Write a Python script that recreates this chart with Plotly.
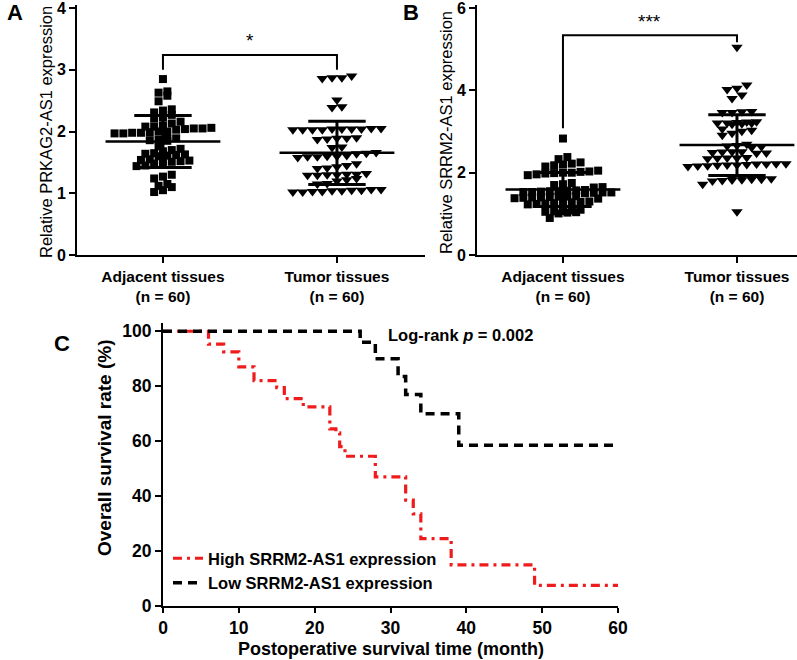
import numpy as np
import plotly.graph_objects as go

# ---------------- data ----------------
categories = ["Adjacent tissues<br>(n = 60)", "Tumor tissues<br>(n = 60)"]

prkag2_adjacent = [2.85, 2.65, 2.63, 2.58, 2.49,
                   2.36, 2.34, 2.31, 2.27, 2.23, 2.21, 2.16, 2.13,
                   2.10, 2.08, 2.08, 2.06, 2.05, 2.05, 2.04, 2.03,
                   1.99, 1.98, 1.97, 2.00, 2.00, 1.98, 1.97,
                   1.89, 1.88, 1.87, 1.86, 1.85,
                   1.76, 1.72, 1.70, 1.68,
                   1.65, 1.64, 1.63, 1.62, 1.61, 1.60,
                   1.55, 1.54, 1.53, 1.52, 1.51, 1.50, 1.48,
                   1.45, 1.44,
                   1.30, 1.27, 1.24,
                   1.15, 1.12, 1.10,
                   1.05, 1.02]
prkag2_tumor = [2.90, 2.87, 2.86, 2.87,
                2.51, 2.40, 2.39,
                2.05, 2.04, 2.03, 2.03, 2.04, 2.05, 2.03, 2.04, 2.03, 2.04,
                1.90, 1.89, 1.88, 1.89, 1.87,
                1.75, 1.74,
                1.66, 1.65, 1.64,
                1.61, 1.60, 1.59, 1.60, 1.58, 1.59,
                1.48, 1.45, 1.43, 1.41, 1.40,
                1.32, 1.31, 1.30, 1.29, 1.29, 1.30, 1.31,
                1.24, 1.22, 1.20, 1.16, 1.15,
                1.06, 1.05, 1.04, 1.03, 1.02, 1.02, 1.03, 1.04, 1.05, 1.06]

srrm2_adjacent = [2.83, 2.38, 2.33,
                  2.25, 2.22, 2.20, 2.18, 2.15,
                  2.05, 2.03, 2.02, 2.00, 2.00, 1.99, 1.98, 1.96, 1.94,
                  1.75, 1.72, 1.70,
                  1.65, 1.64,
                  1.58, 1.57, 1.56, 1.55, 1.55, 1.54, 1.53, 1.53, 1.52, 1.52, 1.51, 1.50,
                  1.43, 1.42, 1.42, 1.41, 1.40, 1.40, 1.39, 1.38, 1.37,
                  1.30, 1.29, 1.28, 1.27, 1.26, 1.25, 1.24, 1.23,
                  1.10, 1.08, 1.07, 1.06, 1.05, 1.04, 1.03, 1.01,
                  0.90]
srrm2_tumor = [5.05,
               4.13, 4.05, 4.02, 3.89, 3.80,
               3.49, 3.48, 3.46, 3.46,
               3.24, 3.23, 3.21, 3.20, 3.19, 3.18, 3.21, 3.22,
               3.06, 3.01, 2.96, 2.91, 3.03,
               2.69, 2.66, 2.63, 2.61, 2.65,
               2.51, 2.49, 2.48, 2.47, 2.51, 2.50,
               2.37, 2.36, 2.35, 2.34, 2.36,
               2.22, 2.21, 2.20, 2.19, 2.18, 2.17, 2.16, 2.15, 2.19, 2.21, 2.22,
               1.89, 1.87, 1.85, 1.84, 1.83, 1.82, 1.81, 1.80, 1.84,
               1.72,
               1.05]

km_high_time = [0, 6, 8, 10, 12, 15, 16, 18.5, 22, 22.8, 23.3, 24, 28, 32, 33, 34, 38, 49, 60]
km_high_surv = [100, 95.3, 92.5, 87, 82, 79.5, 75.5, 72.5, 64.5, 63, 58, 54.5, 47, 38.5, 33.5, 24.5, 15, 7.5, 7.5]
km_low_time = [0, 26, 28, 31, 32, 34, 39, 60]
km_low_surv = [100, 96, 90, 83.5, 77, 70, 58.5, 58.5]

# ---------------- helpers ----------------
W, H = 797, 660
FONT = "Liberation Sans, Arial, sans-serif"


def px_x(p):
    return p / W


def px_y(p):
    return (H - p) / H


def row_swarm(values, ppy, ppx, h=6.0, sp=9.0):
    """GraphPad-like column scatter: bin values into rows, spread each row symmetrically."""
    n = len(values)
    order = sorted(range(n), key=lambda i: values[i])
    rows, cur, base = [], [order[0]], values[order[0]]
    for i in order[1:]:
        if (values[i] - base) * ppy < h:
            cur.append(i)
        else:
            rows.append(cur)
            cur, base = [i], values[i]
    rows.append(cur)
    xs = [0.0] * n
    for row in rows:
        m = len(row)
        for j, i in enumerate(row):
            xs[i] = (j - (m - 1) / 2.0) * sp / ppx
    return xs


fig = go.Figure()

PPX = 174.0  # pixels per category unit


def add_dotplot(xa, ya, adj, tum, ppy):
    for k, (vals, sym, sz, sp) in enumerate([(adj, "square", 8, 8.8), (tum, "triangle-down", 10, 9.8)]):
        off = row_swarm(vals, ppy, PPX, sp=sp)
        fig.add_trace(go.Scatter(x=[k + o for o in off], y=vals, mode="markers",
                                 marker=dict(symbol=sym, size=sz, color="black", line=dict(width=0)),
                                 xaxis=xa, yaxis=ya, showlegend=False, hoverinfo="skip"))
        m = float(np.mean(vals))
        s = float(np.std(vals, ddof=1))
        for xs_, ys_, w in [([k - 0.33, k + 0.33], [m, m], 2.5),
                            ([k - 0.165, k + 0.165], [m + s, m + s], 3),
                            ([k - 0.165, k + 0.165], [m - s, m - s], 3),
                            ([k, k], [m - s, m + s], 3)]:
            fig.add_trace(go.Scatter(x=xs_, y=ys_, mode="lines", line=dict(color="black", width=w),
                                     xaxis=xa, yaxis=ya, showlegend=False, hoverinfo="skip"))


add_dotplot("x", "y", prkag2_adjacent, prkag2_tumor, 61.75)
add_dotplot("x2", "y2", srrm2_adjacent, srrm2_tumor, 41.17)

# significance brackets
fig.add_trace(go.Scatter(x=[0, 0, 1, 1], y=[3.0, 3.24, 3.24, 3.0], mode="lines",
                         line=dict(color="black", width=2), xaxis="x", yaxis="y",
                         showlegend=False, hoverinfo="skip"))
fig.add_trace(go.Scatter(x=[0, 0, 1, 1], y=[3.08, 5.34, 5.34, 5.17], mode="lines",
                         line=dict(color="black", width=2), xaxis="x2", yaxis="y2",
                         showlegend=False, hoverinfo="skip"))

# KM curves
fig.add_trace(go.Scatter(x=km_high_time, y=km_high_surv, mode="lines", line_shape="hv",
                         line=dict(color="#ee1c1c", width=3.2, dash="9px,5px,3px,5px"),
                         name="High SRRM2-AS1 expression", xaxis="x3", yaxis="y3"))
fig.add_trace(go.Scatter(x=km_low_time, y=km_low_surv, mode="lines", line_shape="hv",
                         line=dict(color="black", width=3.5, dash="9px,6px"),
                         name="Low SRRM2-AS1 expression", xaxis="x3", yaxis="y3"))

axis_common = dict(showline=True, linecolor="black", linewidth=2, ticks="outside",
                   ticklen=6, tickwidth=2, tickcolor="black", showgrid=False, zeroline=False,
                   automargin=False, ticklabeloverflow="allow",
                   tickfont=dict(family=FONT, size=16, color="black", weight="bold"))
cat_font = dict(family=FONT, size=15.5, color="black", weight="bold")
c_font = dict(family=FONT, size=17.5, color="black", weight="bold")

fig.update_layout(
    template="none",
    width=W, height=H, margin=dict(l=0, r=0, t=0, b=0, autoexpand=False),
    paper_bgcolor="white", plot_bgcolor="white",
    font=dict(family=FONT, color="black"),
    xaxis=dict(axis_common, domain=[px_x(77), px_x(425)], range=[-0.494, 1.506],
               tickvals=[0, 1], ticktext=categories, anchor="y", tickfont=cat_font),
    yaxis=dict(axis_common, domain=[px_y(255), px_y(5)], range=[0, 4.05], dtick=1, anchor="x"),
    xaxis2=dict(axis_common, domain=[px_x(477), 1.0], range=[-0.494, 1.345],
                tickvals=[0, 1], ticktext=categories, anchor="y2", tickfont=cat_font),
    yaxis2=dict(axis_common, domain=[px_y(255), px_y(5)], range=[0, 6.075], dtick=2, anchor="x2"),
    xaxis3=dict(axis_common, domain=[px_x(163), px_x(618)], range=[0, 60], dtick=10, anchor="y3",
                ticklen=5, tickfont=c_font),
    yaxis3=dict(axis_common, domain=[px_y(606), px_y(323)], range=[0, 103],
                tickvals=[0, 20, 40, 60, 80, 100], anchor="x3", tickfont=c_font),
    legend=dict(x=px_x(168), y=px_y(541), xanchor="left", yanchor="top",
                bgcolor="rgba(0,0,0,0)", tracegroupgap=0, itemwidth=30, borderwidth=0,
                font=dict(family=FONT, size=16.5, color="black", weight="bold")),
    showlegend=True,
)

ann = []
# panel letters
for txt, x, y in [("A", 15, 12), ("B", 411, 12), ("C", 62, 343)]:
    ann.append(dict(text=txt, x=px_x(x), y=px_y(y), xref="paper", yref="paper", showarrow=False,
                    xanchor="center", yanchor="middle",
                    font=dict(family=FONT, size=22, color="black", weight="bold")))
# y titles
ann.append(dict(text="Relative PRKAG2-AS1 expression", x=px_x(46), y=px_y(132), xref="paper", yref="paper",
                showarrow=False, textangle=-90, xanchor="center", yanchor="middle",
                font=dict(family=FONT, size=16.5, color="black")))
ann.append(dict(text="Relative SRRM2-AS1 expression", x=px_x(446), y=px_y(132), xref="paper", yref="paper",
                showarrow=False, textangle=-90, xanchor="center", yanchor="middle",
                font=dict(family=FONT, size=16.5, color="black")))
ann.append(dict(text="Overall survival rate (%)", x=px_x(105), y=px_y(448), xref="paper", yref="paper",
                showarrow=False, textangle=-90, xanchor="center", yanchor="middle",
                font=dict(family=FONT, size=19, color="black", weight="bold")))
ann.append(dict(text="Postoperative survival time (month)", x=px_x(391), y=px_y(649), xref="paper",
                yref="paper", showarrow=False, xanchor="center", yanchor="middle",
                font=dict(family=FONT, size=18, color="black", weight="bold")))
# stars
ann.append(dict(text="*", x=0.5, y=3.27, xref="x", yref="y", showarrow=False, yanchor="bottom",
                font=dict(family=FONT, size=19, color="black")))
ann.append(dict(text="***", x=0.5, y=5.37, xref="x2", yref="y2", showarrow=False, yanchor="bottom",
                font=dict(family=FONT, size=19, color="black")))
ann.append(dict(text="Log-rank <i>p</i> = 0.002", x=29.4, y=98.8, xref="x3", yref="y3", showarrow=False,
                xanchor="left", yanchor="middle",
                font=dict(family=FONT, size=16.5, color="black", weight="bold")))
fig.update_layout(annotations=ann)

fig.write_html("out.html", config={"displayModeBar": False},
               post_script="document.body.style.margin='0px';")
